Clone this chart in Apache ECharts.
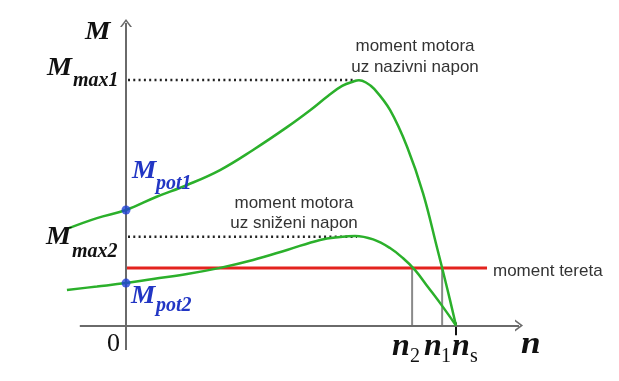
<!DOCTYPE html>
<html>
<head>
<meta charset="utf-8">
<script src="https://cdn.jsdelivr.net/npm/echarts@6/dist/echarts.min.js"></script>
<style>
html,body{margin:0;padding:0;background:#fff;}
#c{width:619px;height:381px;}
</style>
</head>
<body>
<div id="c"></div>
<script>
// Speed n (ns = 1000) and torque M (Mmax1 = 100)
const nRated = [-179, -88, 0, 91, 185, 285, 385, 488, 558, 612, 655, 691, 706, 727, 752, 800, 852, 900, 942, 973, 1000];
const mRated = [39.4, 43.8, 47.1, 52.4, 57.3, 63.4, 71.6, 80.9, 87.8, 93.6, 97.7, 99.6, 100.0, 99.1, 96.5, 87.9, 72.8, 54.0, 32.0, 15.3, 0];
const nReduced = [-179, -88, 0, 82, 185, 285, 385, 488, 588, 649, 694, 749, 800, 839, 876, 915, 958, 1000];
const mReduced = [14.5, 15.9, 17.3, 19.0, 21.0, 23.5, 26.7, 30.8, 34.9, 36.1, 36.5, 35.1, 31.6, 27.5, 22.6, 15.7, 8.0, 0];
const loadTorque = 23.4;
const loadEnd = 1094;
const mMax1 = 100.1, nMax1 = 697;
const mMax2 = 36.2, nMax2 = 700;
const mPot1 = 47.1, mPot2 = 17.3;
const n1 = 958, n2 = 867, ns = 1000;
const nAxisStart = -140, nAxisEnd = 1191;
const mAxisStart = -10, mAxisEnd = 123.4;

const pairs = (xs, ys) => xs.map((x, i) => [x, ys[i]]);
const chevron = 'path://M0,10 L5,0 L10,10 L8.4,10 L5,3.2 L1.6,10 Z';
const GREEN = '#2bb02b', RED = '#e3231e', BLUE = '#2236c4', AXIS = '#6a6a6a';

const serifBI = s => 'italic bold ' + s + 'px "Liberation Serif"';
const serifR = s => s + 'px "Liberation Serif"';
const sans = s => s + 'px "Liberation Sans"';
function txt(text, x, y, font, fill, align, sx) {
  return { type: 'text', x: x, y: y, z: 100, silent: true, scaleX: sx || 1,
    style: { text: text, font: font, fill: fill || '#111',
      align: align || 'left', textAlign: align || 'left',
      verticalAlign: 'middle', textVerticalAlign: 'middle' } };
}

const chart = echarts.init(document.getElementById('c'), null, { renderer: 'canvas' });
chart.setOption({
  animation: false,
  backgroundColor: '#ffffff',
  grid: { left: 60, right: 97, top: 19, bottom: 31 },
  xAxis: { type: 'value', min: -200, max: 1200, show: false },
  yAxis: { type: 'value', min: -10, max: 125, show: false },
  graphic: [
    txt('M', 85, 32, serifBI(26), null, 'left', 1.1),
    txt('M', 47, 68.4, serifBI(26), null, 'left', 1.08), txt('max1', 73, 80.4, serifBI(20)),
    txt('M', 46, 237.4, serifBI(26), null, 'left', 1.08), txt('max2', 72, 251.4, serifBI(20)),
    txt('M', 132, 171.4, serifBI(26), BLUE, 'left', 1.05), txt('pot1', 156, 183.4, serifBI(20), BLUE),
    txt('M', 131, 296.4, serifBI(26), BLUE, 'left', 1.05), txt('pot2', 156, 305.4, serifBI(20), BLUE),
    txt('0', 107, 344.4, serifR(26)),
    txt('n', 392, 346.4, serifBI(32)), txt('2', 410, 356.4, serifR(20)),
    txt('n', 424, 346.4, serifBI(32)), txt('1', 441, 356.4, serifR(20)),
    txt('n', 452, 346.4, serifBI(32)), txt('s', 470, 356.4, serifR(20)),
    txt('n', 521, 344.4, serifBI(32), null, 'left', 1.1),
    txt('moment motora', 415, 46, sans(17), '#333', 'center'),
    txt('uz nazivni napon', 415, 67, sans(17), '#333', 'center'),
    txt('moment motora', 294, 203, sans(17), '#333', 'center'),
    txt('uz sniženi napon', 294, 223, sans(17), '#333', 'center'),
    txt('moment tereta', 493, 271, sans(17), '#333', 'left')
  ],
  series: [
    { type: 'line', data: [[n2, 0], [n2, loadTorque]], symbol: 'none', silent: true,
      lineStyle: { color: '#8a8a8a', width: 2 }, z: 2 },
    { type: 'line', data: [[n1, 0], [n1, loadTorque]], symbol: 'none', silent: true,
      lineStyle: { color: '#8a8a8a', width: 2 }, z: 2 },
    { type: 'line', data: [[6, mMax1], [nMax1, mMax1]], symbol: 'none', silent: true,
      lineStyle: { color: '#222', width: 2.5, type: [2, 3.3] }, z: 2 },
    { type: 'line', data: [[6, mMax2], [nMax2, mMax2]], symbol: 'none', silent: true,
      lineStyle: { color: '#222', width: 2.5, type: [2, 3.3] }, z: 2 },
    { type: 'line', data: [[0, loadTorque], [loadEnd, loadTorque]], symbol: 'none', silent: true,
      lineStyle: { color: RED, width: 3 }, z: 3,
      markLine: { silent: true, symbol: ['none', chevron], symbolSize: [12, 8],
        label: { show: false }, lineStyle: { color: AXIS, width: 2, type: 'solid' },
        emphasis: { disabled: true },
        data: [
          [{ coord: [nAxisStart, 0] }, { coord: [nAxisEnd, 0] }],
          [{ coord: [0, mAxisStart] }, { coord: [0, mAxisEnd] }]
        ] } },
    { type: 'line', data: [[ns, -4], [ns, 1.2]], symbol: 'none', silent: true,
      lineStyle: { color: '#111', width: 2 }, z: 4 },
    { type: 'line', data: pairs(nRated, mRated), symbol: 'none', smooth: 0.4, silent: true,
      lineStyle: { color: GREEN, width: 2.5 }, z: 5 },
    { type: 'line', data: pairs(nReduced, mReduced), symbol: 'none', smooth: 0.4, silent: true,
      lineStyle: { color: GREEN, width: 2.5 }, z: 5 },
    { type: 'scatter', data: [[0, mPot1], [0, mPot2]], symbolSize: 9, silent: true,
      itemStyle: { color: '#1f40d8' }, z: 6 }
  ]
});
</script>
</body>
</html>
